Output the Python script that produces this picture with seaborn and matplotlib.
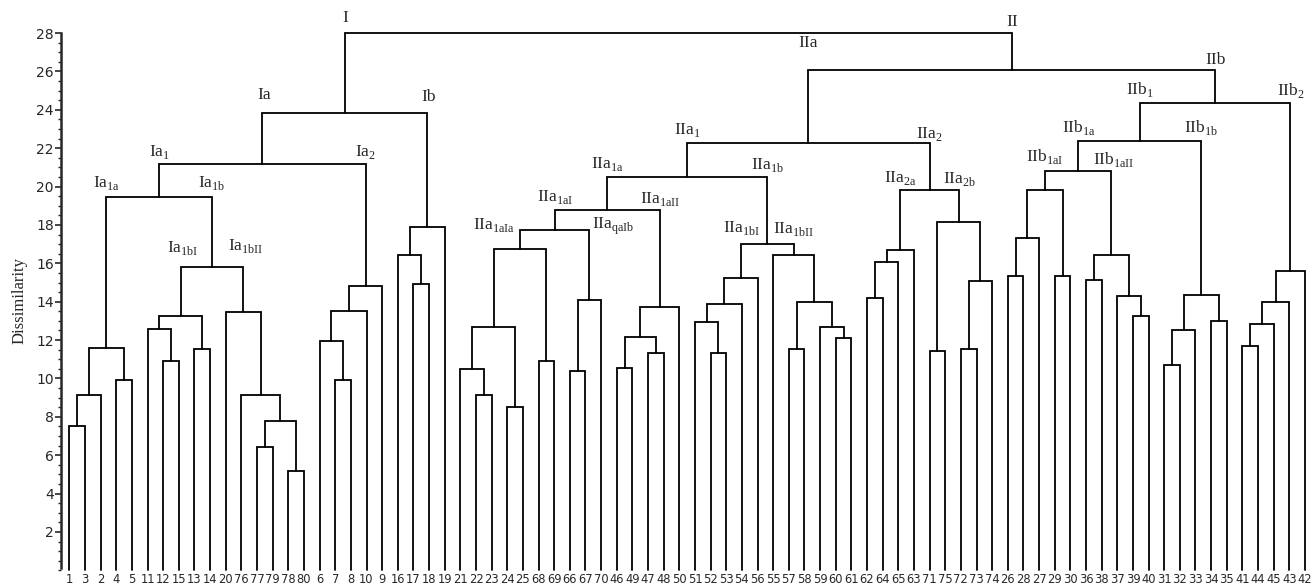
import matplotlib
matplotlib.use("Agg")
import matplotlib.pyplot as plt
from matplotlib.ticker import MultipleLocator
import seaborn as sns

# accession numbers in the order they appear along the x axis
leaf_order = [1, 3, 2, 4, 5, 11, 12, 15, 13, 14, 20, 76, 77, 79, 78, 80, 6, 7, 8, 10, 9,
              16, 17, 18, 19, 21, 22, 23, 24, 25, 68, 69, 66, 67, 70, 46, 49, 47, 48, 50,
              51, 52, 53, 54, 56, 55, 57, 58, 59, 60, 61, 62, 64, 65, 63, 71, 75, 72, 73, 74,
              26, 28, 27, 29, 30, 36, 38, 37, 39, 40, 31, 32, 33, 34, 35, 41, 44, 45, 43, 42]

# cluster I: (name, left, right, dissimilarity); ints = accessions, strings = earlier clusters
merges_I = [
    ("c1", 1, 3, 7.5), ("c2", "c1", 2, 9.15), ("c3", 4, 5, 9.9),
    ("Ia1a", "c2", "c3", 11.6),
    ("c5", 12, 15, 10.9), ("c6", 11, "c5", 12.6), ("c7", 13, 14, 11.55),
    ("Ia1bI", "c6", "c7", 13.25),
    ("c9", 77, 79, 6.45), ("c10", 78, 80, 5.2), ("c11", "c9", "c10", 7.8),
    ("c12", 76, "c11", 9.15), ("Ia1bII", 20, "c12", 13.45),
    ("Ia1b", "Ia1bI", "Ia1bII", 15.8),
    ("Ia1", "Ia1a", "Ia1b", 19.45),
    ("c16", 7, 8, 9.9), ("c17", 6, "c16", 11.95), ("c18", "c17", 10, 13.5),
    ("Ia2", "c18", 9, 14.8),
    ("Ia", "Ia1", "Ia2", 21.2),
    ("c21", 17, 18, 14.9), ("c22", 16, "c21", 16.45), ("Ib", "c22", 19, 17.9),
    ("I", "Ia", "Ib", 23.85),
]

merges_IIa = [
    ("d1", 22, 23, 9.15), ("d2", 21, "d1", 10.5), ("d3", 24, 25, 8.5),
    ("d4", "d2", "d3", 12.7), ("d5", 68, 69, 10.9),
    ("IIa1aIa", "d4", "d5", 16.75),
    ("d7", 66, 67, 10.4), ("IIa1aIb", "d7", 70, 14.1),
    ("IIa1aI", "IIa1aIa", "IIa1aIb", 17.75),
    ("d9", 46, 49, 10.55), ("d10", 47, 48, 11.35), ("d11", "d9", "d10", 12.15),
    ("IIa1aII", "d11", 50, 13.75),
    ("IIa1a", "IIa1aI", "IIa1aII", 18.8),
    ("e1", 52, 53, 11.35), ("e2", 51, "e1", 12.95), ("e3", "e2", 54, 13.9),
    ("IIa1bI", "e3", 56, 15.25),
    ("e5", 57, 58, 11.55), ("e6", 60, 61, 12.1), ("e7", 59, "e6", 12.7),
    ("e8", "e5", "e7", 14.0), ("IIa1bII", 55, "e8", 16.45),
    ("IIa1b", "IIa1bI", "IIa1bII", 17.0),
    ("IIa1", "IIa1a", "IIa1b", 20.5),
    ("f1", 62, 64, 14.2), ("f2", "f1", 65, 16.05), ("IIa2a", "f2", 63, 16.7),
    ("f4", 71, 75, 11.45), ("f5", 72, 73, 11.55), ("f6", "f5", 74, 15.1),
    ("IIa2b", "f4", "f6", 18.15),
    ("IIa2", "IIa2a", "IIa2b", 19.8),
    ("IIa", "IIa1", "IIa2", 22.25),
]

merges_IIb = [
    ("g1", 26, 28, 15.35), ("g2", "g1", 27, 17.3), ("g3", 29, 30, 15.35),
    ("IIb1aI", "g2", "g3", 19.8),
    ("g5", 36, 38, 15.15), ("g6", 39, 40, 13.25), ("g7", 37, "g6", 14.3),
    ("IIb1aII", "g5", "g7", 16.45),
    ("IIb1a", "IIb1aI", "IIb1aII", 20.8),
    ("h1", 31, 32, 10.7), ("h2", "h1", 33, 12.5), ("h3", 34, 35, 13.0),
    ("IIb1b", "h2", "h3", 14.35),
    ("IIb1", "IIb1a", "IIb1b", 22.35),
    ("k1", 41, 44, 11.7), ("k2", "k1", 45, 12.85), ("k3", "k2", 43, 14.0),
    ("IIb2", "k3", 42, 15.6),
    ("IIb", "IIb1", "IIb2", 24.35),
]

merges_top = [
    ("II", "IIa", "IIb", 26.1),
    ("root", "I", "II", 28.0),
]

# group names drawn above each branch
group_labels = {
    "I": "I", "II": "II", "Ia": "Ia", "Ib": "Ib",
    "Ia1": "Ia$_\\mathregular{1}$", "Ia2": "Ia$_\\mathregular{2}$",
    "Ia1a": "Ia$_\\mathregular{1a}$", "Ia1b": "Ia$_\\mathregular{1b}$",
    "Ia1bI": "Ia$_\\mathregular{1bI}$", "Ia1bII": "Ia$_\\mathregular{1bII}$",
    "IIa": "IIa", "IIb": "IIb",
    "IIb1": "IIb$_\\mathregular{1}$", "IIb2": "IIb$_\\mathregular{2}$",
    "IIb1a": "IIb$_\\mathregular{1a}$", "IIb1b": "IIb$_\\mathregular{1b}$",
    "IIb1aI": "IIb$_\\mathregular{1aI}$", "IIb1aII": "IIb$_\\mathregular{1aII}$",
    "IIa1": "IIa$_\\mathregular{1}$", "IIa2": "IIa$_\\mathregular{2}$",
    "IIa1a": "IIa$_\\mathregular{1a}$", "IIa1b": "IIa$_\\mathregular{1b}$",
    "IIa1aI": "IIa$_\\mathregular{1aI}$", "IIa1aII": "IIa$_\\mathregular{1aII}$",
    "IIa1aIa": "IIa$_\\mathregular{1aIa}$", "IIa1aIb": "IIa$_\\mathregular{qaIb}$",
    "IIa1bI": "IIa$_\\mathregular{1bI}$", "IIa1bII": "IIa$_\\mathregular{1bII}$",
    "IIa2a": "IIa$_\\mathregular{2a}$", "IIa2b": "IIa$_\\mathregular{2b}$",
}

# label offsets in pixels from the top of the branch (dx, dy)
label_offsets = {
    "I": (0, 15), "II": (0, 11), "Ia": (2, 18), "Ib": (1, 16),
    "Ia1": (0, 12), "Ia2": (0, 12), "Ia1a": (0, 14), "Ia1b": (0, 14),
    "Ia1bI": (2, 19), "Ia1bII": (2, 21), "IIa": (0, 27), "IIb": (0, 10),
    "IIb1": (0, 14), "IIb2": (0, 13), "IIb1a": (0, 14), "IIb1b": (0, 14),
    "IIb1aI": (0, 15), "IIb1aII": (2, 12), "IIa1": (0, 13), "IIa2": (0, 9),
    "IIa1a": (0, 13), "IIa1b": (0, 12), "IIa1aI": (0, 13), "IIa1aII": (0, 11),
    "IIa1aIa": (-26, 5), "IIa1aIb": (24, 3), "IIa1bI": (0, 16), "IIa1bII": (0, 15),
    "IIa2a": (0, 12), "IIa2b": (0, 11),
}

sns.set_style("ticks")
plt.rcParams["font.family"] = ["DejaVu Sans"]
plt.rcParams["mathtext.fontset"] = "custom"
plt.rcParams["mathtext.rm"] = "Liberation Serif"

fig = plt.figure(figsize=(13.12, 5.85), dpi=100)
ax = fig.add_axes([0.0463, 0.025, 0.9537, 0.9218])

xpos = {leaf: i for i, leaf in enumerate(leaf_order)}
height = {leaf: 0.0 for leaf in leaf_order}
parent = {}
all_merges = merges_I + merges_IIa + merges_IIb + merges_top

for name, left, right, h in all_merges:
    xl, xr = xpos[left], xpos[right]
    ax.plot([xl, xl, xr, xr], [height[left], h, h, height[right]],
            color="black", lw=1.3, solid_joinstyle="miter", clip_on=False)
    xpos[name] = (xl + xr) / 2
    height[name] = h
    parent[left] = name
    parent[right] = name

for name, text in group_labels.items():
    dx, dy = label_offsets[name]
    ax.annotate(text, xy=(xpos[name], height[parent[name]]), xytext=(dx, dy),
                textcoords="offset pixels", ha="center", va="center",
                fontsize=12.5, family="Liberation Serif")

ax.set_xlim(-0.55, 79.45)
ax.set_ylim(0, 28.1)
ax.set_xticks(range(len(leaf_order)))
ax.set_xticklabels([str(v) for v in leaf_order], fontsize=8.3)
ax.tick_params(axis="x", length=0, pad=2)
ax.set_yticks(range(2, 29, 2))
ax.yaxis.set_minor_locator(MultipleLocator(0.5))
ax.tick_params(axis="y", which="major", length=4, width=1.2, labelsize=10, pad=1)
ax.tick_params(axis="y", which="minor", length=2, width=1.0)
ax.set_ylabel("Dissimilarity", family="Liberation Serif", fontsize=12, labelpad=6)

sns.despine(ax=ax, bottom=True)
ax.spines["left"].set_linewidth(1.8)
ax.spines["left"].set_bounds(0.1, 28)

fig.savefig("out.png", dpi=100)
